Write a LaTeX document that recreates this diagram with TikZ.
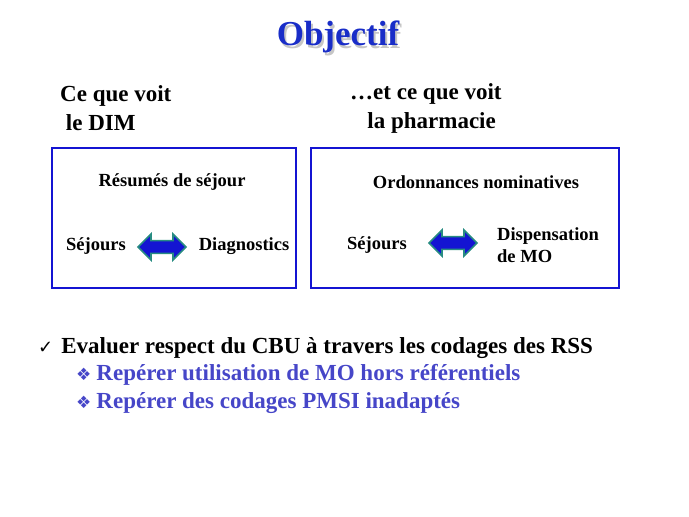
\documentclass[tikz,border=0pt]{standalone}
\usepackage{fontspec}
\setmainfont{Liberation Serif}
\newfontfamily\symfont{DejaVu Sans}
\usetikzlibrary{shapes.arrows}
\definecolor{boxblue}{RGB}{20,20,210}
\definecolor{titleblue}{RGB}{25,45,200}
\definecolor{subblue}{RGB}{70,70,200}
\definecolor{arrteal}{RGB}{40,140,130}
\tikzset{
  frame/.style={draw=boxblue,line width=2.4pt},
  lbl/.style={font=\bfseries\fontsize{18.5}{21}\selectfont,inner sep=0pt},
  head/.style={font=\bfseries\fontsize{23}{26}\selectfont,inner sep=0pt,anchor=west,align=left},
  dbl/.style={double arrow,draw=arrteal,fill=boxblue,line width=1.6pt,minimum width=26pt,
    double arrow head extend=4pt,minimum height=48pt,inner sep=3pt},
  bul/.style={font=\bfseries\fontsize{23}{26}\selectfont,inner sep=0pt,anchor=west}
}
\begin{document}
\begin{tikzpicture}[x=1pt,y=-1pt]
\useasboundingbox (0,0) rectangle (689,517);
\node[font=\bfseries\fontsize{35}{38}\selectfont,text=gray!45,inner sep=0pt] (shadow) at (340,40) {\phantom{}Objectif};
\node[font=\bfseries\fontsize{35}{38}\selectfont,text=titleblue,inner sep=0pt] (title) at (338,37) {Objectif};
\node[head] (h1) at (60,108) {Ce que voit\\[3pt]\ le DIM};
\node[head] (h2) at (350,108) {\dots et ce que voit\\[3pt]\ \ \ la pharmacie};
\draw[frame] (52,148) rectangle (296,288);
\draw[frame] (311,148) rectangle (619,288);
\node[lbl] (r1) at (172,182) {Résumés de séjour};
\node[lbl] (s1) at (96,246) {Séjours};
\node[lbl] (d1) at (244,246) {Diagnostics};
\node[dbl] (a1) at (162,247) {};
\node[lbl] (r2) at (476,182) {Ordonnances nominatives};
\node[lbl] (s2) at (377,245) {Séjours};
\node[lbl,anchor=west,align=left] (d2) at (497,245) {Dispensation\\[1pt]de MO};
\node[dbl] (a2) at (453,243) {};
\node[bul] (b0) at (38,348) {{\symfont\fontsize{18}{20}\selectfont ✓}\hspace{8pt}Evaluer respect du CBU à travers les codages des RSS};
\node[bul,text=subblue] (b1) at (76,375) {{\symfont\fontsize{17}{20}\selectfont ❖}\hspace{5pt}Repérer utilisation de MO hors référentiels};
\node[bul,text=subblue] (b2) at (76,403) {{\symfont\fontsize{17}{20}\selectfont ❖}\hspace{5pt}Repérer des codages PMSI inadaptés};
\end{tikzpicture}
\end{document}
